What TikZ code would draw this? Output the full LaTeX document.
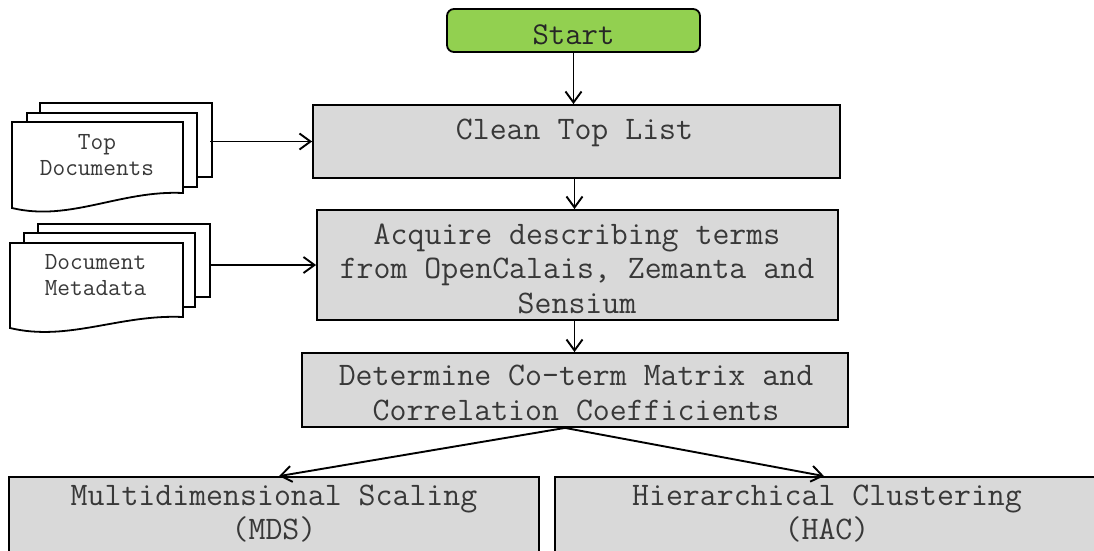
\documentclass[tikz,border=0pt]{standalone}
\usepackage{fontspec}
\usetikzlibrary{arrows.meta}
\definecolor{boxgray}{HTML}{D9D9D9}
\definecolor{startgreen}{HTML}{92D050}
\definecolor{txtgray}{HTML}{383838}
\begin{document}
\begin{tikzpicture}[x=1pt,y=-1pt,
  procbox/.style={draw=black, line width=1.8pt, fill=boxgray, inner sep=0pt},
  startbox/.style={draw=black, line width=1.8pt, fill=startgreen, rounded corners=7pt, inner sep=0pt},
  bigtext/.style={inner sep=0pt, align=center, text=txtgray, font=\ttfamily\fontsize{32.9}{34.5}\selectfont},
  bottomtext/.style={bigtext, font=\ttfamily\fontsize{32.9}{32}\selectfont},
  doctext/.style={inner sep=0pt, align=center, text=txtgray, font=\ttfamily\fontsize{24.6}{25.8}\selectfont},
  docpage/.style={draw=black, line width=1.8pt, fill=white},
  flow/.style={draw=black, line width=1.9pt, -{Straight Barb[length=11pt,width=16pt]}}
]
\useasboundingbox (0,0) rectangle (1094,550);
\fill[white] (0,0) rectangle (1094,550);

% boxes
\node[startbox, minimum width=253pt, minimum height=43pt] (start) at (573.5,30.5) {};
\node[procbox, minimum width=527pt, minimum height=73pt] (clean) at (576.5,141.5) {};
\node[procbox, minimum width=521pt, minimum height=110pt] (acquire) at (577.5,265) {};
\node[procbox, minimum width=546pt, minimum height=74pt] (determine) at (575,390) {};
\node[procbox, minimum width=530pt, minimum height=88pt] (mds) at (274,521) {};
\node[procbox, minimum width=550pt, minimum height=88pt] (hac) at (830,521) {};

% texts
\node[bigtext, font=\ttfamily\fontsize{31.8}{33.6}\selectfont, text=black!85] (starttext) at (573.5,37.3) {\strut Start};
\node[bigtext] (cleantext) at (574.5,133) {\strut Clean Top List};
\node[bigtext] (acquiretext) at (577,272) {\strut Acquire describing terms\\\strut from OpenCalais, Zemanta and\\\strut Sensium};
\node[bigtext] (determinetext) at (576,396) {\strut Determine Co-term Matrix and\\\strut Correlation Coefficients};
\node[bottomtext] (mdstext) at (274,516) {\strut Multidimensional Scaling\\\strut (MDS)};
\node[bottomtext] (hactext) at (827,516) {\strut Hierarchical Clustering\\\strut (HAC)};

% document stacks
\filldraw[docpage] (40,103) rectangle (212,177);
\filldraw[docpage] (27,113) rectangle (197,187);
\filldraw[docpage] (12,122) -- (183,122) -- (183,193) .. controls (120,190) and (70,222) .. (12,208) -- cycle;
\node[doctext] (topdocs) at (97,157) {\strut Top\\\strut Documents};
\coordinate (topdocsout) at (210,141.5);

\filldraw[docpage] (38,224) rectangle (210,297);
\filldraw[docpage] (24,233) rectangle (195,307);
\filldraw[docpage] (10,243) -- (183,243) -- (183,317) .. controls (120,314) and (68,342) .. (10,328) -- cycle;
\node[doctext] (metadata) at (95.5,277) {\strut Document\\\strut Metadata};
\coordinate (metadataout) at (210,265);

% connectors
\draw[flow] (start.south) -- (start.south |- clean.north);
\draw[flow] ([xshift=-2pt]clean.south) -- ([xshift=-2pt]clean.south |- acquire.north);
\draw[flow] ([xshift=-3pt]acquire.south) -- ([xshift=-3pt]acquire.south |- determine.north);
\draw[flow] (topdocsout) -- (clean.west);
\draw[flow] (metadataout) -- (acquire.west);
\draw[flow] ([xshift=-10pt]determine.south) -- ([xshift=5pt]mds.north);
\draw[flow] ([xshift=-10pt]determine.south) -- ([xshift=-6pt]hac.north);
\end{tikzpicture}
\end{document}
